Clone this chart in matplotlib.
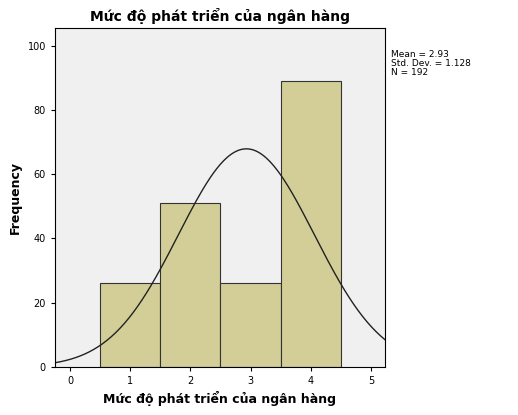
import numpy as np
import matplotlib
matplotlib.use("Agg")
import matplotlib.pyplot as plt

# Dữ liệu
categories = [1, 2, 3, 4]
frequencies = [26, 51, 26, 89]
mean_val = 2.93
std_val = 1.128
n_total = 192

fig = plt.figure(figsize=(5.18, 4.15), dpi=100)
ax = fig.add_axes([0.106, 0.116, 0.637, 0.817])
ax.set_facecolor("#f0f0f0")

ax.bar(categories, frequencies, width=1.0, color="#d3ce98", edgecolor="#333333", linewidth=0.8)

# Đường phân phối chuẩn theo Mean/SD
xs = np.linspace(-0.25, 5.23, 300)
ys = n_total / (std_val * np.sqrt(2 * np.pi)) * np.exp(-0.5 * ((xs - mean_val) / std_val) ** 2)
ax.plot(xs, ys, color="#222222", linewidth=1.0)

ax.set_xlim(-0.25, 5.23)
ax.set_ylim(0, 105.6)
ax.set_xticks([0, 1, 2, 3, 4, 5])
ax.set_yticks([0, 20, 40, 60, 80, 100])
ax.tick_params(labelsize=7, length=3)
ax.set_title("Mức độ phát triển của ngân hàng", fontsize=10, fontweight="bold", pad=5)
ax.set_xlabel("Mức độ phát triển của ngân hàng", fontsize=9, fontweight="bold")
ax.set_ylabel("Frequency", fontsize=9, fontweight="bold")

fig.text(0.755, 0.88, f"Mean = {mean_val}\nStd. Dev. = {std_val}\nN = {n_total}",
         fontsize=6.5, va="top", linespacing=1.0)

fig.savefig("out.png", dpi=100)
